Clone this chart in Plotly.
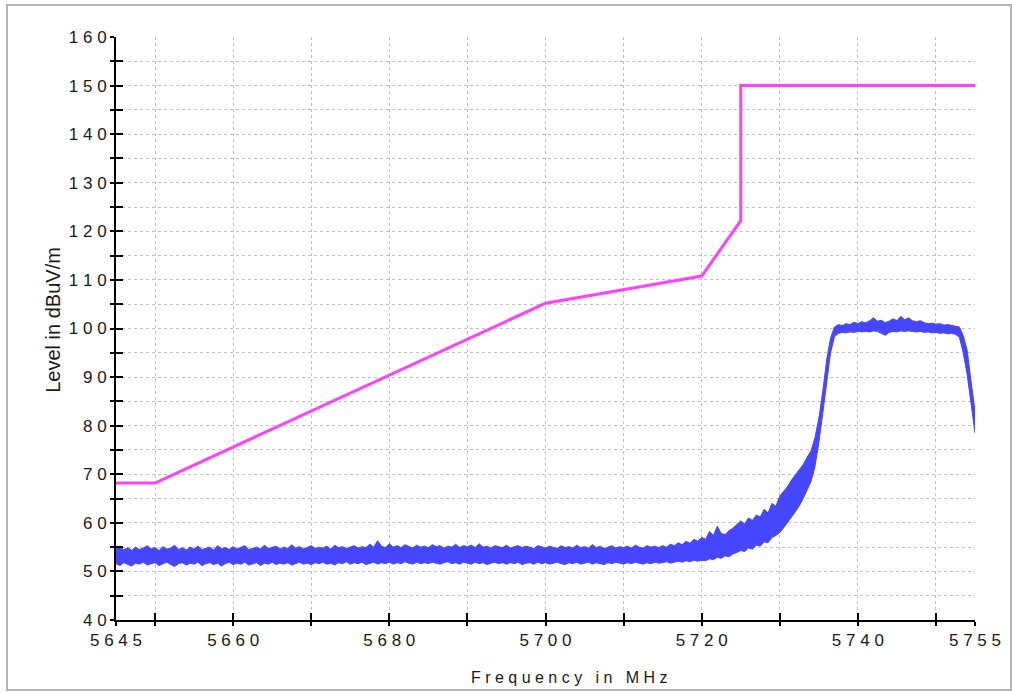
import plotly.graph_objects as go

# ---------------- data ----------------
# Measured emission (noisy trace) read as lower / upper envelope, 0.5 MHz steps
freq = [5645 + 0.5 * i for i in range(221)]   # 5645 .. 5755

noise_low = [
    51.6, 51.2, 51.8, 51.4, 51.1, 51.7, 51.5, 51.9, 51.3, 51.6,   # 5645
    51.8, 51.2, 51.5, 51.9, 51.4, 51.0, 51.6, 51.8, 51.3, 51.7,   # 5650
    51.5, 51.9, 51.2, 51.6, 51.8, 51.4, 51.7, 51.1, 51.6, 51.9,   # 5655
    51.4, 51.7, 51.5, 51.9, 51.3, 51.6, 51.8, 51.2, 51.7, 51.5,   # 5660
    51.9, 51.4, 51.7, 51.5, 51.8, 51.3, 51.6, 51.9, 51.5, 51.7,   # 5665
    51.4, 51.8, 51.6, 51.9, 51.5, 51.7, 51.3, 51.8, 51.6, 52.0,   # 5670
    51.5, 51.8, 51.6, 51.9, 51.4, 51.7, 51.9, 51.5, 51.8, 51.6,   # 5675
    51.9, 51.5, 51.8, 51.6, 52.0, 51.7, 51.5, 51.9, 51.6, 51.8,   # 5680
    51.6, 51.9, 51.7, 51.5, 51.8, 52.0, 51.6, 51.8, 51.5, 51.9,   # 5685
    51.7, 51.5, 51.9, 51.6, 51.8, 51.4, 51.7, 51.9, 51.6, 51.8,   # 5690
    51.5, 51.8, 51.6, 51.9, 51.4, 51.7, 51.8, 51.5, 51.9, 51.6,   # 5695
    51.8, 51.5, 51.7, 51.9, 51.6, 51.4, 51.8, 51.6, 51.9, 51.5,   # 5700
    51.7, 51.9, 51.5, 51.8, 51.6, 51.4, 51.8, 51.6, 51.9, 51.7,   # 5705
    51.5, 51.8, 51.6, 51.9, 51.7, 51.5, 51.8, 51.6, 51.9, 51.7,   # 5710
    51.8, 52.0, 51.7, 51.9, 52.1, 51.9, 52.2, 52.0, 52.3, 52.1,   # 5715
    52.3, 52.2, 52.6, 52.4, 52.9, 52.7, 53.2, 53.0, 53.6, 53.9,   # 5720
    54.3, 54.1, 54.8, 54.6, 55.4, 55.2, 56.1, 55.9, 57.0, 57.4,   # 5725
    58.0, 59.0, 60.0, 61.2, 62.3, 63.5, 65.0, 66.8, 68.5, 71.5,   # 5730
    76.5, 82.5, 89.0, 95.0, 98.3, 99.0, 99.2, 99.1, 99.3, 99.2,   # 5735
    99.4, 99.3, 99.4, 99.3, 99.5, 99.4, 99.0, 98.6, 99.2, 99.4,   # 5740
    99.3, 99.5, 99.4, 99.5, 99.4, 99.3, 99.4, 99.2, 99.3, 99.1,   # 5745
    99.2, 99.0, 99.1, 98.9, 99.0, 98.8, 98.2, 95.0, 90.5, 84.0,   # 5750
    78.5,                                                         # 5755
]
noise_high = [
    54.6, 55.2, 54.4, 54.9, 54.3, 55.0, 54.5, 54.8, 55.3, 54.6,   # 5645
    54.9, 54.3, 55.1, 54.6, 54.8, 55.4, 54.5, 54.9, 54.4, 55.0,   # 5650
    54.6, 55.2, 54.5, 54.8, 55.0, 54.4, 55.3, 54.7, 54.9, 54.5,   # 5655
    55.1, 54.6, 54.9, 55.3, 54.5, 54.8, 55.0, 54.6, 55.4, 54.7,   # 5660
    54.9, 55.2, 54.6, 55.0, 54.7, 55.5, 54.8, 55.1, 54.6, 54.9,   # 5665
    55.3, 54.7, 55.0, 54.8, 55.2, 54.6, 55.4, 54.9, 55.1, 54.7,   # 5670
    55.0, 55.3, 54.8, 55.1, 54.9, 55.6, 55.0, 56.3, 55.2, 54.9,   # 5675
    55.7, 55.0, 55.3, 54.9, 55.5, 55.1, 54.8, 55.4, 55.0, 55.2,   # 5680
    54.9, 55.5, 55.1, 55.3, 54.8, 55.2, 55.0, 55.6, 54.9, 55.3,   # 5685
    55.1, 55.4, 54.9, 55.7, 55.0, 55.2, 54.8, 55.3, 55.1, 54.9,   # 5690
    55.4, 54.8, 55.1, 55.3, 54.9, 55.2, 55.0, 54.7, 55.3, 55.0,   # 5695
    54.8, 55.2, 55.0, 54.7, 55.3, 54.9, 55.1, 54.8, 55.4, 54.9,   # 5700
    55.1, 54.8, 55.5, 54.9, 55.2, 54.7, 55.0, 55.3, 54.8, 55.1,   # 5705
    54.9, 55.2, 54.8, 55.4, 55.0, 54.8, 55.3, 55.0, 55.2, 54.9,   # 5710
    55.3, 55.0, 55.6, 55.3, 55.9, 55.5, 56.2, 55.8, 56.6, 56.2,   # 5715
    57.0, 56.6, 58.2, 57.4, 59.3, 57.8, 57.6, 58.4, 58.9, 59.6,   # 5720
    60.4, 59.8, 61.0, 60.5, 61.6, 61.2, 62.8, 62.0, 64.0, 63.4,   # 5725
    65.5, 66.5, 67.5, 68.8, 69.8, 70.8, 72.0, 73.5, 74.8, 77.5,   # 5730
    81.5, 87.0, 93.5, 98.0, 100.3, 100.8, 100.6, 101.0, 100.8, 101.3,  # 5735
    101.0, 101.4, 101.2, 101.6, 102.2, 101.5, 101.7, 101.2, 101.5, 102.0,  # 5740
    101.6, 102.5, 101.8, 102.2, 101.6, 101.4, 101.6, 101.2, 101.0, 101.1,  # 5745
    100.9, 101.0, 100.7, 100.8, 100.6, 100.5, 100.3, 98.5, 95.5, 89.0,   # 5750
    83.0,                                                         # 5755
]

# Limit line
limit_freq = [5645, 5650, 5700, 5720, 5725, 5725, 5755]
limit_db = [68.2, 68.2, 105.2, 110.8, 122.2, 150.0, 150.0]

# Axes
x_tickvals = [5645, 5650, 5660, 5670, 5680, 5690, 5700, 5710, 5720, 5730, 5740, 5750, 5755]
x_ticktext = ["5 6 4 5", "", "5 6 6 0", "", "5 6 8 0", "", "5 7 0 0", "", "5 7 2 0", "",
              "5 7 4 0", "", "5 7 5 5"]
y_tickvals = [40, 45, 50, 55, 60, 65, 70, 75, 80, 85, 90, 95, 100, 105, 110, 115,
              120, 125, 130, 135, 140, 145, 150, 155, 160]
y_ticktext = ["4 0", "", "5 0", "", "6 0", "", "7 0", "", "8 0", "", "9 0", "",
              "1 0 0", "", "1 1 0", "", "1 2 0", "", "1 3 0", "", "1 4 0", "",
              "1 5 0", "", "1 6 0"]
x_title = "F r e q u e n c y\u00a0\u00a0\u00a0i n\u00a0\u00a0\u00a0M H z"   # "Frequency in MHz"
y_title = "Level in dBuV/m"

BLUE = "#4646ff"
PINK = "#ff40ff"
FONT = "Liberation Sans, Arial, sans-serif"
TXT = "#1a1a1a"

fig = go.Figure()
fig.add_trace(go.Scatter(x=freq, y=noise_low, mode="lines",
                         line=dict(color=BLUE, width=1),
                         hoverinfo="skip", showlegend=False))
fig.add_trace(go.Scatter(x=freq, y=noise_high, mode="lines", fill="tonexty",
                         fillcolor=BLUE, line=dict(color=BLUE, width=1),
                         hoverinfo="skip", showlegend=False))
fig.add_trace(go.Scatter(x=limit_freq, y=limit_db, mode="lines",
                         line=dict(color=PINK, width=3),
                         hoverinfo="skip", showlegend=False))
# invisible trace to activate the overlay axes (inner tick marks)
fig.add_trace(go.Scatter(x=[limit_freq[0]], y=[limit_db[0]], xaxis="x2", yaxis="y2",
                         mode="markers", marker=dict(opacity=0),
                         hoverinfo="skip", showlegend=False))

common_grid = dict(showgrid=True, gridcolor="#c2c2c2", griddash="dot", gridwidth=1,
                   zeroline=False)

fig.update_layout(
    width=1012, height=693,
    margin=dict(l=116, r=37, t=37, b=73),
    paper_bgcolor="white", plot_bgcolor="white",
    font=dict(family=FONT, color=TXT),
    xaxis=dict(range=[5645, 5755], tickmode="array", tickvals=x_tickvals,
               ticktext=x_ticktext, ticks="outside", ticklen=4, tickwidth=1.5,
               tickcolor="black", showline=True, linecolor="black", linewidth=2,
               tickfont=dict(family=FONT, size=17, color=TXT), **common_grid),
    yaxis=dict(range=[40, 160], tickmode="array", tickvals=y_tickvals,
               ticktext=y_ticktext, ticks="outside", ticklen=4, tickwidth=1.5,
               tickcolor="black", showline=True, linecolor="black", linewidth=2,
               tickfont=dict(family=FONT, size=17, color=TXT), **common_grid),
    xaxis2=dict(range=[5645, 5755], overlaying="x", anchor="y2", side="bottom",
                tickmode="array", tickvals=x_tickvals, ticks="inside", ticklen=7,
                tickwidth=1.5, tickcolor="black", showticklabels=False,
                showgrid=False, showline=False, zeroline=False),
    yaxis2=dict(range=[40, 160], overlaying="y", anchor="x2", side="left",
                tickmode="array", tickvals=y_tickvals, ticks="inside", ticklen=7,
                tickwidth=1.5, tickcolor="black", showticklabels=False,
                showgrid=False, showline=False, zeroline=False),
    showlegend=False,
)

fig.add_annotation(text=x_title,
                   xref="paper", yref="paper", x=0.5274, y=-0.0978,
                   xanchor="center", yanchor="middle", showarrow=False,
                   font=dict(family=FONT, size=16, color=TXT))
fig.add_annotation(text=y_title, textangle=-90,
                   xref="paper", yref="paper", x=-0.0733, y=0.515,
                   xanchor="center", yanchor="middle", showarrow=False,
                   font=dict(family=FONT, size=20, color=TXT))

# outer frame
fig.add_shape(type="rect", xref="paper", yref="paper",
              x0=-0.1269, x1=1.0419, y0=-0.12, y1=1.0549,
              line=dict(color="#b4b4b4", width=2), fillcolor="rgba(0,0,0,0)", layer="below")

fig.write_html("out.html", config={"displayModeBar": False},
               post_script="document.body.style.margin='0';document.body.style.overflow='hidden';")
